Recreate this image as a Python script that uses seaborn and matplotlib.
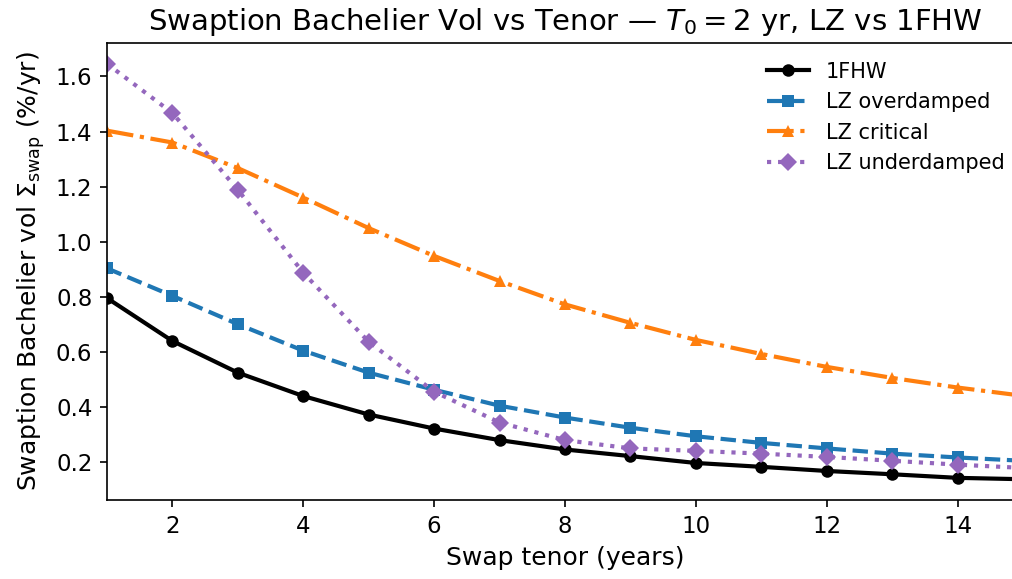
import numpy as np
import pandas as pd
import seaborn as sns
import matplotlib.pyplot as plt

# swap tenors (years)
tenor = [1, 2, 3, 4, 5, 6, 7, 8, 9, 10, 11, 12, 13, 14, 15]

# Bachelier vols (%/yr)
vol_1fhw = [0.795, 0.639, 0.524, 0.439, 0.372, 0.321, 0.279, 0.245, 0.221, 0.196,
            0.182, 0.167, 0.155, 0.142, 0.137]
vol_over = [0.903, 0.803, 0.700, 0.604, 0.524, 0.462, 0.404, 0.361, 0.324, 0.293,
            0.269, 0.249, 0.230, 0.216, 0.204]
vol_crit = [1.403, 1.360, 1.267, 1.160, 1.049, 0.948, 0.857, 0.772, 0.705, 0.643,
            0.592, 0.545, 0.505, 0.470, 0.440]
vol_under = [1.646, 1.467, 1.188, 0.887, 0.636, 0.455, 0.343, 0.279, 0.249, 0.240,
             0.230, 0.218, 0.204, 0.190, 0.178]

series = [
    ("1FHW", vol_1fhw, "black", "o", "-"),
    ("LZ overdamped", vol_over, "tab:blue", "s", "--"),
    ("LZ critical", vol_crit, "tab:orange", "^", "-."),
    ("LZ underdamped", vol_under, "tab:purple", "D", ":"),
]

fig = plt.figure(figsize=(1012 / 150, 579 / 150), dpi=150)
# axes runs a little past the right edge of the figure, like the reference crop
ax = fig.add_axes([107 / 1012, 1 - 500 / 579, (1023 - 107) / 1012, (500 - 43) / 579])

for name, vals, col, mk, ls in series:
    sns.lineplot(x=tenor, y=vals, ax=ax, color=col, marker=mk, linestyle=ls,
                 linewidth=2, markersize=6, markeredgewidth=0, label=name)

ax.set_xlim(1, 15)
ax.set_xticks([2, 4, 6, 8, 10, 12, 14])
ax.tick_params(labelsize=11)
ax.set_xlabel("Swap tenor (years)", fontsize=12)
ax.set_ylabel(r"Swaption Bachelier vol $\Sigma_{\mathrm{swap}}$ (%/yr)", fontsize=12)
ax.set_title(r"Swaption Bachelier Vol vs Tenor — $T_0 = 2$ yr, LZ vs 1FHW", fontsize=14)
ax.legend(loc="upper right", frameon=False, fontsize=10)

fig.savefig("out.png", dpi=150)
